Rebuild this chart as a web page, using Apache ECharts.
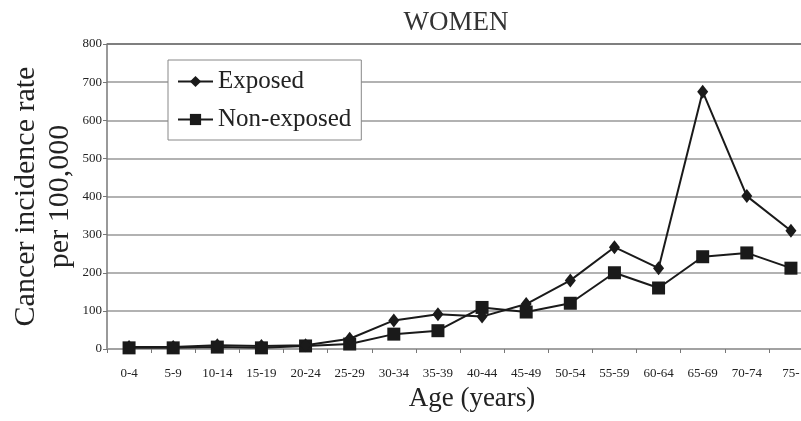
<!DOCTYPE html>
<html>
<head>
<meta charset="utf-8">
<script src="https://cdn.jsdelivr.net/npm/echarts@6/dist/echarts.min.js"></script>
<style>
  html, body { margin: 0; padding: 0; background: #fff; }
  #chart { width: 801px; height: 421px; }
</style>
</head>
<body>
<div id="chart"></div>
<script>
// Age groups along the x axis
const ageGroups = ['0-4', '5-9', '10-14', '15-19', '20-24', '25-29', '30-34', '35-39',
  '40-44', '45-49', '50-54', '55-59', '60-64', '65-69', '70-74', '75-'];

// Cancer incidence rate per 100,000 women
const exposed = [5, 5, 10, 8, 10, 27, 75, 91, 85, 118, 180, 267, 212, 675, 401, 310];
const nonExposed = [3, 3, 5, 3, 8, 13, 39, 48, 109, 97, 120, 200, 160, 242, 252, 212];

const yTicks = { min: 0, max: 800, interval: 100 };

const serif = 'Liberation Serif';
const ink = '#1a1a1a';

const chart = echarts.init(document.getElementById('chart'), null, { renderer: 'canvas' });

chart.setOption({
  animation: false,
  backgroundColor: '#fff',
  title: {
    text: 'WOMEN',
    left: 451,
    top: 4,
    textAlign: 'center',
    textStyle: { fontFamily: serif, fontSize: 27, fontWeight: 'normal', color: '#333' }
  },
  legend: {
    orient: 'vertical',
    left: 168,
    top: 60,
    padding: [9, 10, 8, 9],
    itemGap: 13,
    itemWidth: 35,
    itemHeight: 14,
    backgroundColor: '#fff',
    borderColor: '#888',
    borderWidth: 1,
    textStyle: { fontFamily: serif, fontSize: 25, color: '#222' },
    data: ['Exposed', 'Non-exposed']
  },
  grid: { left: 107, top: 44, bottom: 72, right: -12, containLabel: false, outerBoundsMode: 'none' },
  xAxis: {
    type: 'category',
    data: ageGroups,
    boundaryGap: true,
    name: 'Age (years)',
    nameLocation: 'middle',
    nameGap: 36,
    nameTextStyle: { fontFamily: serif, fontSize: 27, color: '#222', padding: [0, 0, 0, 24] },
    axisLine: { show: true, lineStyle: { color: '#999', width: 1.5 } },
    axisTick: { show: true, length: 4, lineStyle: { color: '#777' } },
    axisLabel: { fontFamily: serif, fontSize: 13, color: '#222', margin: 18, interval: 0 },
    splitLine: { show: false }
  },
  yAxis: {
    type: 'value',
    min: yTicks.min,
    max: yTicks.max,
    interval: yTicks.interval,
    name: 'Cancer incidence rate\nper 100,000',
    nameLocation: 'middle',
    nameGap: 30,
    nameMoveOverlap: false,
    nameTextStyle: { fontFamily: serif, fontSize: 30, color: '#222', lineHeight: 34 },
    axisLine: { show: true, lineStyle: { color: '#777', width: 1.5 } },
    axisTick: { show: true, length: 4, lineStyle: { color: '#777' } },
    axisLabel: { fontFamily: serif, fontSize: 13, color: '#222', margin: 5 },
    splitLine: {
      show: true,
      lineStyle: {
        color: ['#aaa', '#999', '#999', '#999', '#999', '#999', '#999', '#999', '#555'],
        width: 1.5
      }
    }
  },
  series: [
    {
      name: 'Exposed',
      type: 'line',
      data: exposed,
      symbol: 'diamond',
      symbolSize: [11, 14],
      lineStyle: { color: ink, width: 2 },
      itemStyle: { color: ink },
      z: 3
    },
    {
      name: 'Non-exposed',
      type: 'line',
      data: nonExposed,
      symbol: 'rect',
      symbolSize: 13,
      lineStyle: { color: ink, width: 2 },
      itemStyle: { color: ink },
      z: 2
    }
  ]
});
</script>
</body>
</html>
